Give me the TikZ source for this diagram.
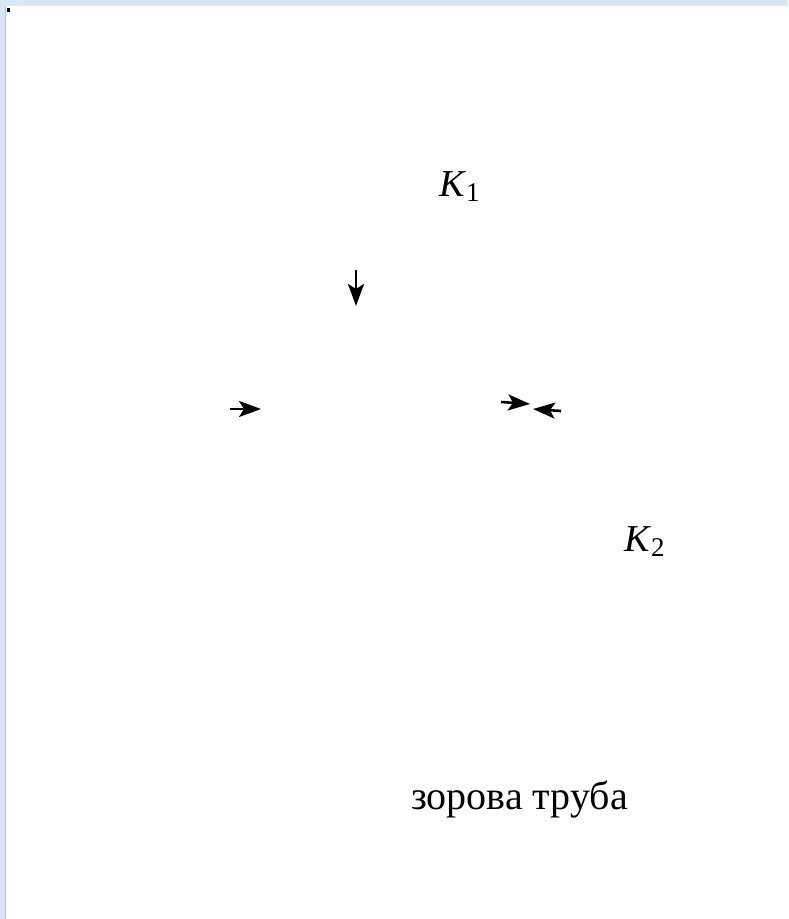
\documentclass[tikz,border=0pt]{standalone}
\usepackage{fontspec}
\setmainfont{Liberation Serif}
\usetikzlibrary{arrows.meta}
\definecolor{frameblue}{HTML}{D8E6F6}
\definecolor{framegrey}{HTML}{B8C4D2}
\tikzset{
  pointer/.style={line width=2.6pt, -{Stealth[length=22pt, width=16pt, inset=5pt]}},
  label/.style={inner sep=0pt, anchor=base west, font=\fontsize{38}{40}\selectfont},
}
\newcommand{\Kname}[1]{\textit{K}\kern0pt\raisebox{-5pt}{\fontsize{27}{30}\selectfont #1}}
\begin{document}
\begin{tikzpicture}[x=1pt, y=-1pt]
  \useasboundingbox (0,0) rectangle (788,919);
  % window frame
  \fill[white] (0,0) rectangle (788,919);
  \fill[frameblue] (0,0) rectangle (788,6);
  \fill[frameblue] (0,0) rectangle (5,919);
  \draw[framegrey, line width=1pt] (5,6) -- (5,919);
  \fill[black] (7,8) rectangle (10,12);

  % labels
  \node[label] (k1) at (439,196) {\Kname{1}};
  \node[label] (k2) at (624,551) {\Kname{2}};
  \node[label, font=\fontsize{40}{42}\selectfont] (tube) at (411,809) {зорова труба};

  % arrow end points
  \coordinate (vtop) at (356,270);
  \coordinate (vtip) at (356,306);
  \coordinate (ltail) at (230,409);
  \coordinate (ltip) at (261,409);
  \coordinate (rtail) at (501,402);
  \coordinate (rtip) at (530,404);
  \coordinate (btail) at (561,411);
  \coordinate (btip) at (533,409);

  \draw[pointer] (vtop) -- (vtip);
  \draw[pointer] (ltail) -- (ltip);
  \draw[pointer] (rtail) -- (rtip);
  \draw[pointer] (btail) -- (btip);
\end{tikzpicture}
\end{document}
